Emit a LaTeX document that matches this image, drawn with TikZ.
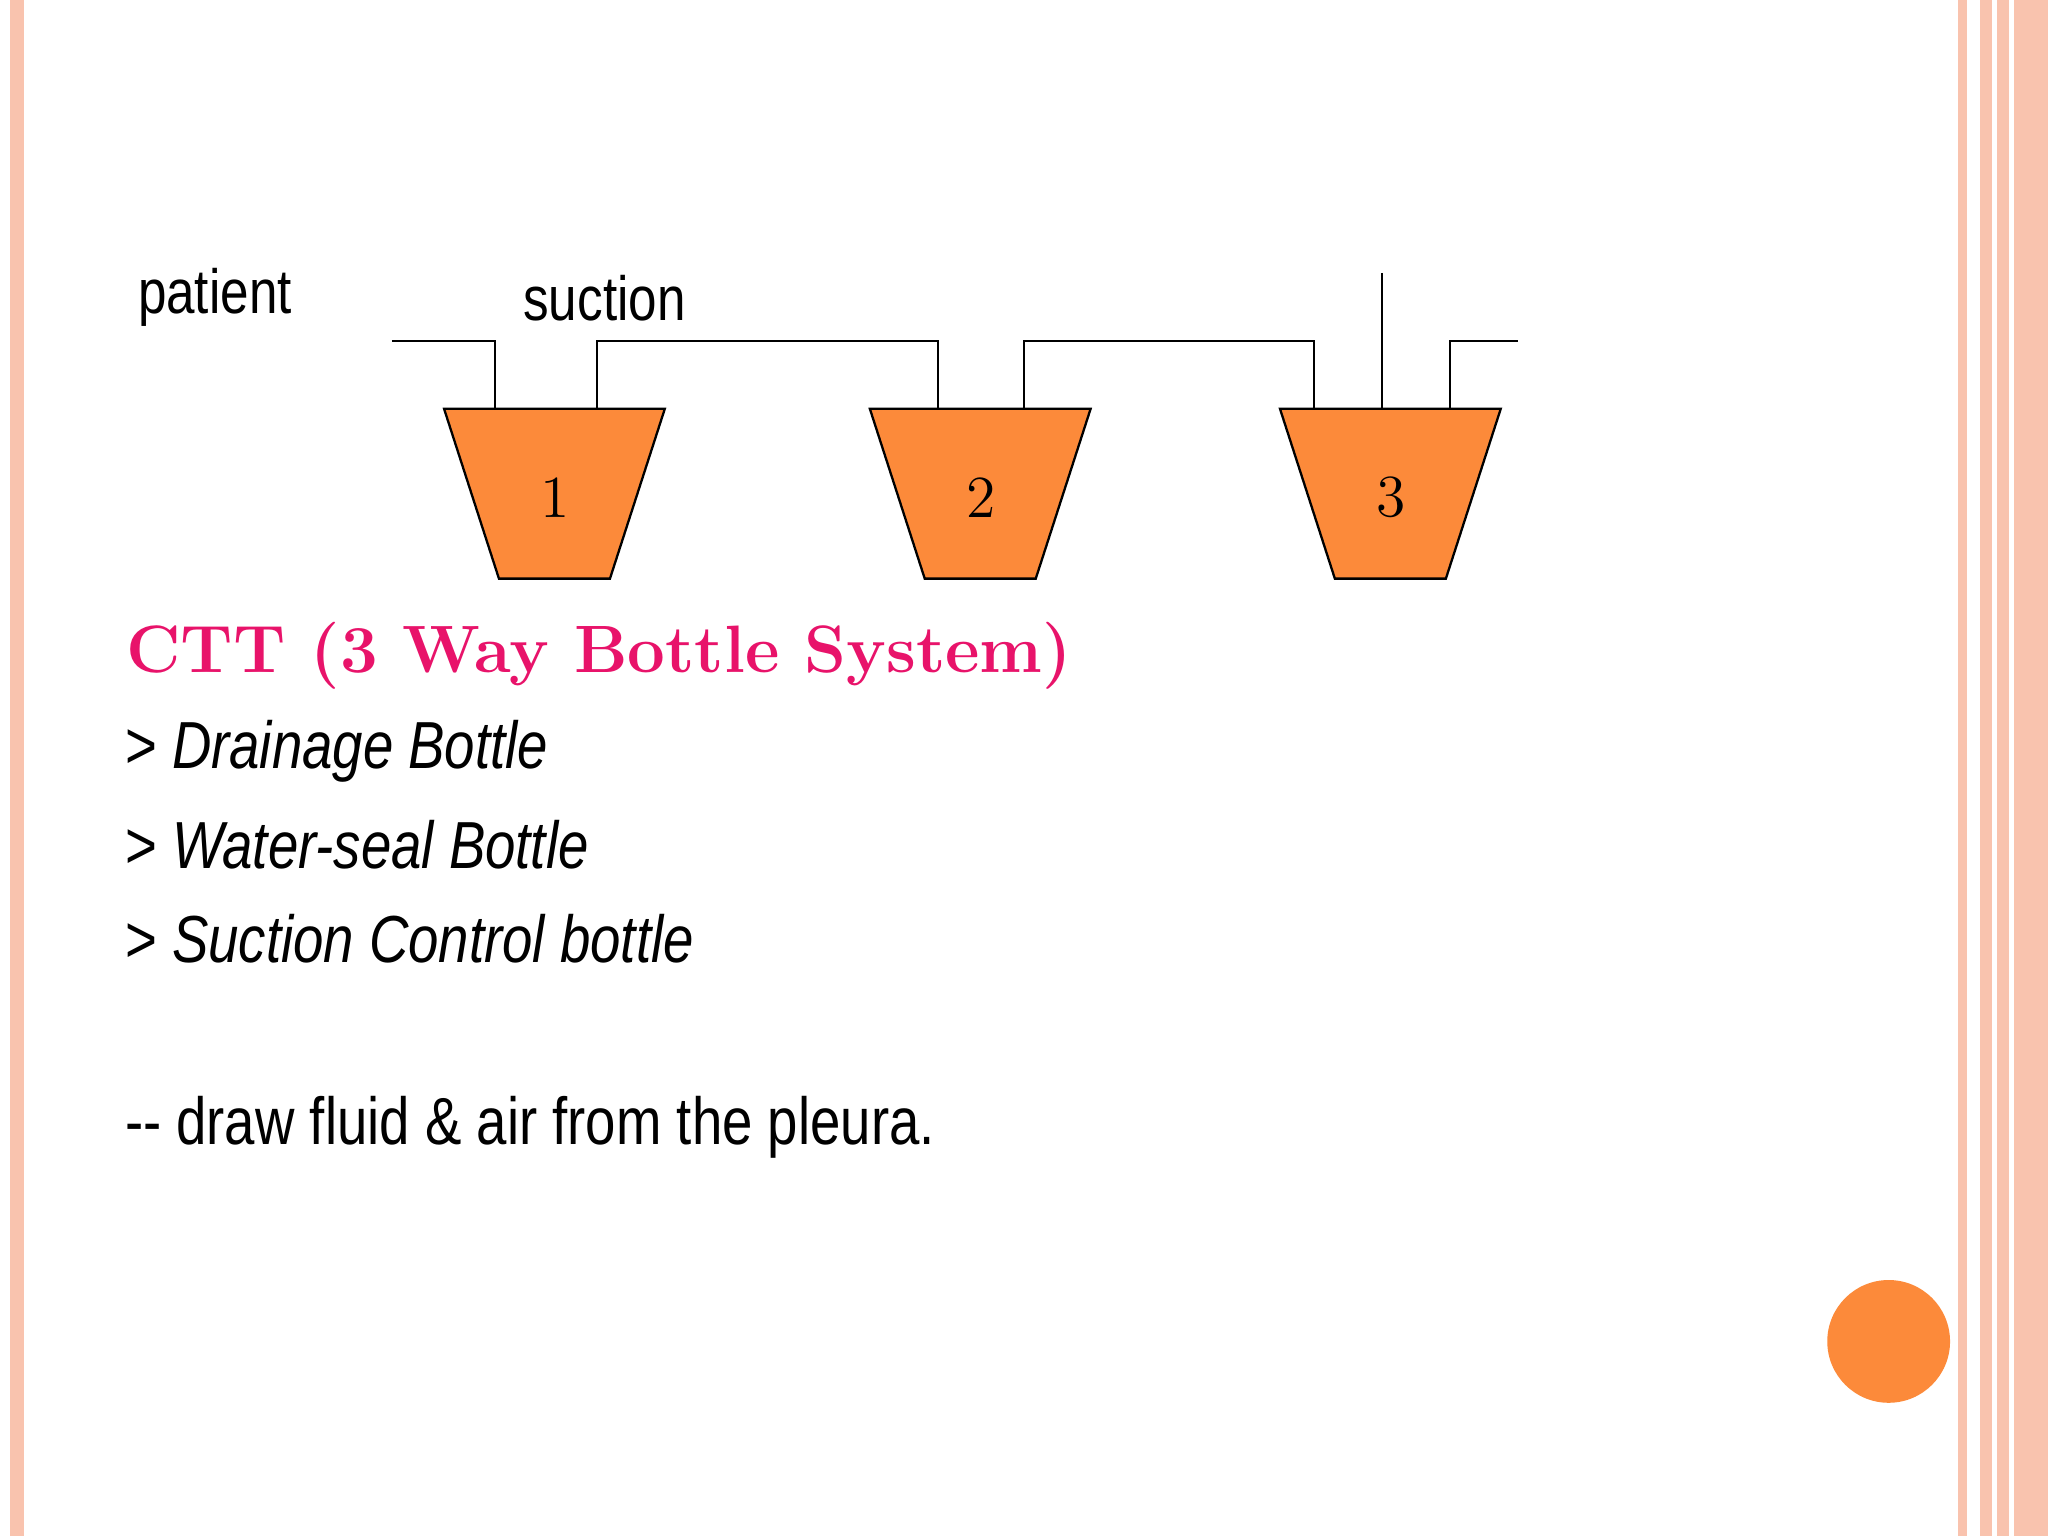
\documentclass[tikz,border=0pt]{standalone}
\usepackage{fontspec}
\newfontfamily\nar[FakeStretch=0.82]{Liberation Sans}
\definecolor{bor}{HTML}{F9C3AE}
\definecolor{org}{HTML}{FC8A3A}
\definecolor{pnk}{HTML}{E8136A}
\begin{document}
\begin{tikzpicture}[x=0.1mm,y=-0.1mm,
  bottle/.style={draw=black,fill=org,line width=0.5pt},
  tube/.style={draw=black,line width=0.5pt},
  lbl/.style={anchor=west,inner sep=0pt,font=\nar\fontsize{13.6}{16}\selectfont},
  itm/.style={anchor=west,inner sep=0pt,font=\nar\itshape\fontsize{14.5}{17}\selectfont}]
\useasboundingbox (0,0) rectangle (1568,1176);
\fill[white] (0,0) rectangle (1568,1176);
\fill[bor] (8,0) rectangle (18,1176);
\fill[bor] (1499,0) rectangle (1506,1176);
\fill[bor] (1516,0) rectangle (1568,1176);
\draw[white,line width=1pt] (1527,0) -- (1527,1176);
\draw[white,line width=1pt] (1540,0) -- (1540,1176);
\fill[org] (1446,1027) circle (47);
% bottles
\foreach \n/\x in {1/425,2/751,3/1065}{
  \draw[bottle] (\x-85,313) -- (\x+84,313) -- (\x+42,443) -- (\x-43,443) -- cycle;
  \node[font=\fontsize{13}{16}\selectfont] (b\n) at (\x,381) {\n};
}
\coordinate (p0) at (300,261);
\coordinate (s3) at (1058,209);
\coordinate (o3) at (1162,261);
\draw[tube] (p0) -- (379,261) -- (379,313);
\draw[tube] (457,313) -- (457,261) -- (718,261) -- (718,313);
\draw[tube] (784,313) -- (784,261) -- (1006,261) -- (1006,313);
\draw[tube] (s3) -- (1058,313);
\draw[tube] (1110,313) -- (1110,261) -- (o3);
\node[lbl] (pat) at (105,228) {patient};
\node[lbl] (suc) at (400,228) {suction};
\node[anchor=west,inner sep=0pt,text=pnk,font=\bfseries\fontsize{14.6}{18}\selectfont] (t) at (96,502) {CTT (3 Way Bottle System)};
\node[itm] (i1) at (95,575) {\upshape> \itshape Drainage Bottle};
\node[itm] (i2) at (95,647) {\upshape> \itshape Water-seal Bottle};
\node[itm] (i3) at (95,719) {\upshape> \itshape Suction Control bottle};
\node[itm,font=\nar\fontsize{14.5}{17}\selectfont] (d) at (95,863) {-{}- draw fluid \& air from the pleura.};
\end{tikzpicture}
\end{document}
